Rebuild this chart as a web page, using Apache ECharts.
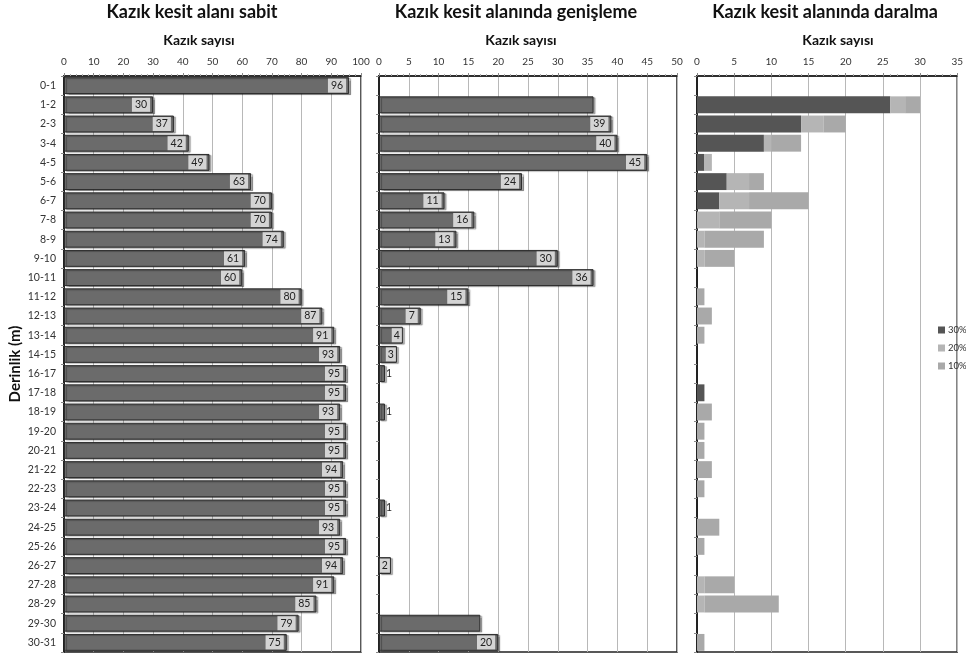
<!DOCTYPE html>
<html><head><meta charset="utf-8">
<script src="https://cdn.jsdelivr.net/npm/echarts@6/dist/echarts.min.js"></script>
<style>html,body{margin:0;padding:0;background:#fff}#c{width:966px;height:654px}</style>
</head><body><div id="c"></div>
<script>
// Derinlik aralıkları (m)
const derinlik = ['0-1','1-2','2-3','3-4','4-5','5-6','6-7','7-8','8-9','9-10',
  '10-11','11-12','12-13','13-14','14-15','16-17','17-18','18-19','19-20','20-21',
  '21-22','22-23','23-24','24-25','25-26','26-27','27-28','28-29','29-30','30-31'];

// Kazık kesit alanı sabit
const sabit = [96,30,37,42,49,63,70,70,74,61, 60,80,87,91,93,95,95,93,95,95,
  94,95,95,93,95,94,91,85,79,75];

// Kazık kesit alanında genişleme
const genisleme = [0,36,39,40,45,24,11,16,13,30, 36,15,7,4,3,1,0,1,0,0,
  0,0,1,0,0,2,0,0,17,20];
const etiketsizGenisleme = ['1-2','29-30'];

// Kazık kesit alanında daralma (yığılmış)
const daralmaAdlari = ['30%','20%','10%'];
const daralma30 = [0,26,14,9,1,4,3,0,0,0, 0,0,0,0,0,0,1,0,0,0, 0,0,0,0,0,0,0,0,0,0];
const daralma20 = [0,2,3,1,1,3,4,3,1,1, 0,0,0,0,0,0,0,0,0,0, 0,0,0,0,0,0,1,1,0,0];
const daralma10 = [0,2,3,4,0,2,8,7,8,4, 0,1,2,1,0,0,0,2,1,1, 2,1,0,3,1,0,4,10,0,1];

// Eksen ölçekleri
const eksenMax = [100, 50, 35];
const eksenAralik = [10, 5, 5];

const FONT = 'Lato, "Open Sans", sans-serif';
const TOP = 76, HEIGHT = 576;
const grids = [
  { left: 64, top: TOP, width: 297, height: HEIGHT },
  { left: 379, top: TOP, width: 298, height: HEIGHT },
  { left: 697, top: TOP, width: 268, height: HEIGHT }
];

const barStyle = {
  color: '#6b6b6b', borderColor: '#2b2b2b', borderWidth: 1,
  shadowColor: 'rgba(0,0,0,0.3)', shadowOffsetX: 2, shadowOffsetY: 1, shadowBlur: 1
};
const boxLabel = {
  show: true, position: 'insideRight', distance: 3,
  backgroundColor: '#d4d4d4', color: '#222', fontSize: 10.5, fontFamily: FONT,
  padding: [2, 3, 1, 3]
};

const sabitData = sabit.map(v => ({ value: v }));
const genislemeData = genisleme.map((v, i) => {
  if (!v) return { value: '-' };
  const item = { value: v };
  if (etiketsizGenisleme.includes(derinlik[i])) {
    item.label = { show: false };
  } else if (v === 1) {
    item.label = { position: 'right', distance: 1, backgroundColor: 'transparent', padding: 0 };
  } else if (v <= 4) {
    item.label = { distance: 1, padding: [2, 2, 1, 2] };
  }
  return item;
});

const xAxes = grids.map((g, i) => ({
  gridIndex: i, type: 'value', position: 'top', min: 0, max: eksenMax[i], interval: eksenAralik[i],
  axisLine: { show: true, lineStyle: { color: '#222', width: 1.5 } },
  axisTick: { show: true, length: 3, lineStyle: { color: '#888' } },
  minorTick: { show: true, splitNumber: 5, length: 2, lineStyle: { color: '#aaa' } },
  axisLabel: { fontSize: 10, color: '#333', fontFamily: FONT, margin: 9 },
  splitLine: { show: true, lineStyle: { color: '#b8b8b8', width: 1 } }
}));

const yAxes = grids.map((g, i) => ({
  gridIndex: i, type: 'category', data: derinlik, inverse: true,
  axisLine: { show: true, lineStyle: { color: '#222', width: 2 } },
  axisTick: { show: true, length: 3, lineStyle: { color: '#888' } },
  axisLabel: { show: i === 0, fontSize: 10.5, color: '#333', fontFamily: FONT, margin: 8 }
}));

const daralmaRenk = ['#555555', '#b5b5b5', '#a9a9a9'];
const daralmaSeri = [daralma30, daralma20, daralma10].map((d, k) => ({
  name: daralmaAdlari[k], type: 'bar', stack: 'daralma', xAxisIndex: 2, yAxisIndex: 2,
  barCategoryGap: '12%', data: d, itemStyle: { color: daralmaRenk[k] }
}));

const titles = [
  ['Kazık kesit alanı sabit', 192],
  ['Kazık kesit alanında genişleme', 516],
  ['Kazık kesit alanında daralma', 825]
];
const subX = [199, 521, 838];

const graphic = [];
titles.forEach(([t, x], i) => {
  graphic.push({ type: 'text', x: x, y: 12, style: { text: t, fill: '#111', font: 'bold 18px ' + FONT, textAlign: 'center', textVerticalAlign: 'middle' } });
  graphic.push({ type: 'text', x: subX[i], y: 40, style: { text: 'Kazık sayısı', fill: '#111', font: 'bold 14px ' + FONT, textAlign: 'center', textVerticalAlign: 'middle' } });
});
graphic.push({ type: 'text', x: 15, y: 364, rotation: Math.PI / 2,
  style: { text: 'Derinlik (m)', fill: '#111', font: 'bold 15px ' + FONT, textAlign: 'center', textVerticalAlign: 'middle' } });

const chart = echarts.init(document.getElementById('c'), null, { renderer: 'canvas' });
chart.setOption({
  animation: false,
  backgroundColor: '#fff',
  grid: grids.map(g => Object.assign({ show: true, borderColor: '#222', borderWidth: 1.5, backgroundColor: 'transparent' }, g)),
  xAxis: xAxes,
  yAxis: yAxes,
  legend: {
    orient: 'vertical', left: 933, top: 320, itemWidth: 7, itemHeight: 7, itemGap: 8,
    icon: 'rect', data: daralmaAdlari,
    textStyle: { fontSize: 9.5, color: '#333', fontFamily: FONT, padding: [0, 0, 0, -2] }
  },
  graphic: graphic,
  series: [
    { type: 'bar', xAxisIndex: 0, yAxisIndex: 0, barCategoryGap: '12%', data: sabitData, itemStyle: barStyle, label: boxLabel },
    { type: 'bar', xAxisIndex: 1, yAxisIndex: 1, barCategoryGap: '12%', data: genislemeData, itemStyle: barStyle, label: boxLabel }
  ].concat(daralmaSeri)
});
</script>
</body></html>
